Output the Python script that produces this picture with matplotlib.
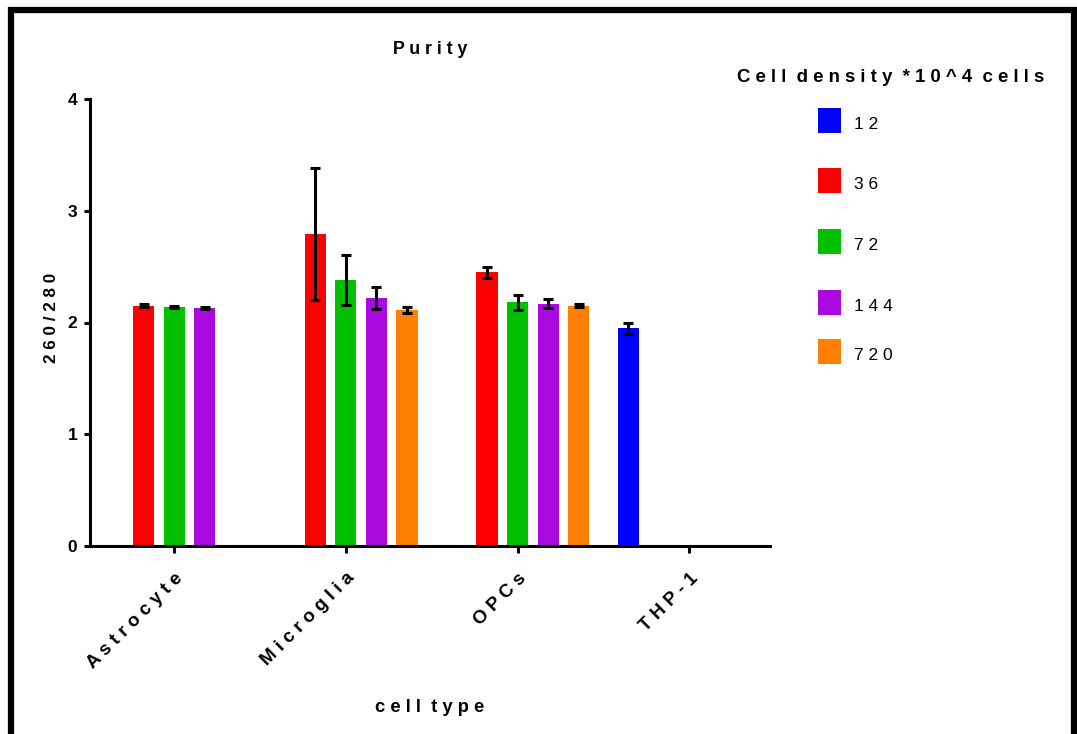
import numpy as np
import matplotlib
matplotlib.use('Agg')
import matplotlib.pyplot as plt
from matplotlib.patches import Rectangle
import matplotlib.transforms as mtransforms

# ==========================================
# Purity (260/280) by cell type and seeding density
# ==========================================
W, H = 1077, 734

cell_types = ['Astrocyte', 'Microglia', 'OPCs', 'THP-1']
densities = ['12', '36', '72', '144', '720']
colors = ['#0000FF', '#FF0000', '#00C000', '#AA0AE0', '#FF8000']

nan = np.nan
# mean 260/280 per density, ordered as cell_types
mean_12 = [nan, nan, nan, 1.95]
mean_36 = [2.15, 2.79, 2.45, nan]
mean_72 = [2.14, 2.38, 2.18, nan]
mean_144 = [2.13, 2.22, 2.17, nan]
mean_720 = [nan, 2.11, 2.15, nan]

# SD
sd_12 = [nan, nan, nan, 0.05]
sd_36 = [0.015, 0.59, 0.05, nan]
sd_72 = [0.012, 0.22, 0.066, nan]
sd_144 = [0.012, 0.10, 0.037, nan]
sd_720 = [nan, 0.028, 0.012, nan]

means = [mean_12, mean_36, mean_72, mean_144, mean_720]
sds = [sd_12, sd_36, sd_72, sd_144, sd_720]

y_ticks = [0, 1, 2, 3, 4]

plt.rcParams['font.family'] = ['Liberation Sans', 'DejaVu Sans']


def spaced(s):
    """letter-spaced text, wider gap between words"""
    return '  '.join(' '.join(w) for w in s.split(' '))


def fx(px):
    return px / W


def fy(py):
    return 1 - py / H


fig = plt.figure(figsize=(W / 100, H / 100), dpi=100)
ax = fig.add_axes([fx(90), fy(546), fx(770) - fx(90), fy(99) - fy(546)])

slot = 0.178
bar_w = 0.123
x = np.arange(len(cell_types))

for i, (m, s, c) in enumerate(zip(means, sds, colors)):
    m = np.asarray(m, dtype=float)
    s = np.asarray(s, dtype=float)
    ok = ~np.isnan(m)
    xs = x[ok] + (i - 2) * slot
    ax.bar(xs, m[ok], width=bar_w, color=c, zorder=2)
    ax.errorbar(xs, m[ok], yerr=s[ok], fmt='none', ecolor='black',
                elinewidth=2.2, capsize=3.6, capthick=2.2, zorder=3)

ax.set_xlim(-0.49, 3.47)
ax.set_ylim(0, 4)
ax.set_yticks(y_ticks)
ax.set_yticklabels([str(t) for t in y_ticks], fontsize=12.5, fontweight='bold')
ax.set_xticks(x)
ax.set_xticklabels([spaced(c) for c in cell_types], fontsize=13.5,
                   fontweight='bold', rotation=45, ha='right',
                   rotation_mode='anchor')
offset = mtransforms.ScaledTranslation(5 / 100, 0, fig.dpi_scale_trans)
for lab in ax.get_xticklabels():
    lab.set_transform(lab.get_transform() + offset)
y_off = mtransforms.ScaledTranslation(0, -4 / 100, fig.dpi_scale_trans)
for lab in ax.get_yticklabels():
    lab.set_transform(lab.get_transform() + y_off)

for side in ['top', 'right']:
    ax.spines[side].set_visible(False)
for side in ['left', 'bottom']:
    ax.spines[side].set_linewidth(2.2)
ax.tick_params(axis='y', direction='out', length=4, width=2.2, pad=5)
ax.tick_params(axis='x', direction='out', length=5, width=2.2, pad=12)

# titles and axis labels
fig.text(fx(430), fy(49), spaced('Purity'), ha='center', va='center',
         fontsize=12.8, fontweight='bold')
fig.text(fx(52), fy(318), spaced('260/280'), ha='center', va='center',
         rotation=90, fontsize=12.3, fontweight='bold')
fig.text(fx(430), fy(707), spaced('cell type'), ha='center', va='center',
         fontsize=13.2, fontweight='bold')

# legend
fig.text(fx(737), fy(78), spaced('Cell density *10^4 cells'), ha='left',
         va='center', fontsize=13.4, fontweight='bold')
legend_y = [120.5, 180.5, 241.5, 302.5, 351.5]
for lab, c, yc in zip(densities, colors, legend_y):
    fig.add_artist(Rectangle((fx(818), fy(yc + 12.5)), fx(23), 25 / H,
                             transform=fig.transFigure, facecolor=c,
                             edgecolor='none'))
    fig.text(fx(854), fy(yc + 4), spaced(lab), ha='left', va='center',
             fontsize=12.5)

# outer frame
fig.add_artist(Rectangle((fx(11), fy(735.5)), fx(1074) - fx(11), 725.5 / H,
                         transform=fig.transFigure, facecolor='none',
                         edgecolor='black', linewidth=4.5))

fig.savefig('out.png', dpi=100)
